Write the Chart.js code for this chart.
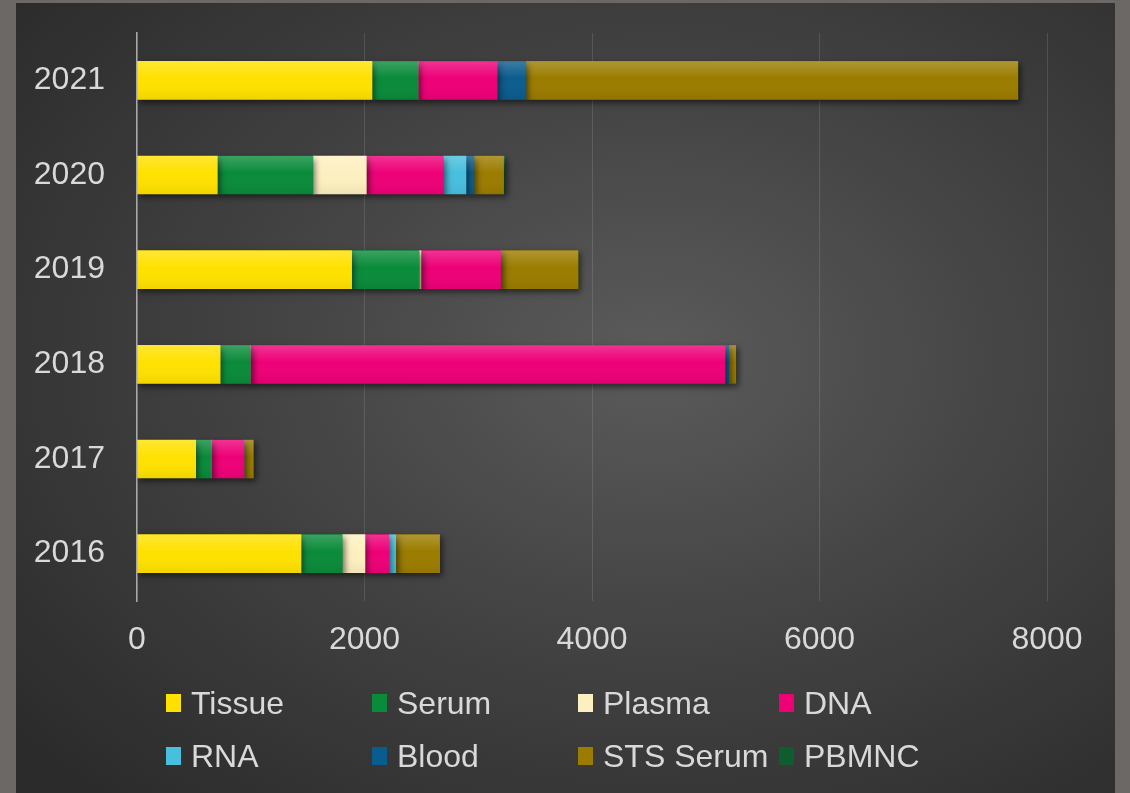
<!DOCTYPE html>
<html>
<head>
<meta charset="utf-8">
<script src="https://cdn.jsdelivr.net/npm/chart.js@4/dist/chart.umd.min.js"></script>
<style>
  html, body { margin: 0; padding: 0; }
  body { width: 1130px; height: 793px; background: #6b6866; position: relative; overflow: hidden;
         font-family: "Liberation Sans", Arial, sans-serif; }
  #panel { position: absolute; left: 16px; top: 3px; width: 1099px; height: 790px;
           background: radial-gradient(ellipse 75% 75% at 58% 45%, #5b5b5b 0%, #444 45%, #2b2b2b 100%); }
  #chart { position: absolute; left: 0; top: 0; }
  #legend { position: absolute; left: 166px; top: 684px; display: grid;
            grid-template-columns: 206px 206px 201px auto; row-gap: 15px; }
  .item { display: flex; align-items: center; height: 38px; color: #d9d9d9; font-size: 32px; white-space: nowrap; }
  .box { width: 15px; height: 18px; margin-right: 10px; }
</style>
</head>
<body>
<div id="panel"></div>
<canvas id="chart" width="1130" height="793"></canvas>
<div id="legend"></div>
<script>
// years (category axis)
const years = ["2016", "2017", "2018", "2019", "2020", "2021"];

// series values, one per year
const tissue   = [1442, 516, 731, 1887, 706, 2066];
const serum    = [363, 137, 264, 594, 841, 404];
const plasma   = [199, 0, 0, 15, 469, 0];
const dna      = [211, 287, 4173, 700, 677, 694];
const rna      = [59, 0, 0, 0, 199, 0];
const blood    = [0, 0, 34, 0, 70, 255];
const stsSerum = [387, 83, 62, 682, 261, 4325];
const pbmnc    = [0, 0, 0, 0, 10, 0];

const seriesNames = ["Tissue", "Serum", "Plasma", "DNA", "RNA", "Blood", "STS Serum", "PBMNC"];
const seriesData = [tissue, serum, plasma, dna, rna, blood, stsSerum, pbmnc];
const seriesColors = ["#ffe100", "#0a8b3a", "#fdf0c0", "#ee0077", "#48bfdd", "#0b5c8e", "#9b7c00", "#0f5c2e"];

// x axis ticks
const xMin = 0;
const xMax = 8000;
const xStep = 2000;

const textColor = "#d9d9d9";

// shadow under the bars
const shadowPlugin = {
  id: "barShadow",
  beforeDatasetsDraw(chart) {
    const ctx = chart.ctx;
    ctx.save();
    ctx.shadowColor = "rgba(0,0,0,0.55)";
    ctx.shadowBlur = 6;
    ctx.shadowOffsetX = 2;
    ctx.shadowOffsetY = 3;
  },
  afterDatasetsDraw(chart) {
    const ctx = chart.ctx;
    ctx.restore();
    // light gloss on each bar
    chart.data.datasets.forEach((ds, i) => {
      const meta = chart.getDatasetMeta(i);
      meta.data.forEach(bar => {
        const p = bar.getProps(["x", "y", "base", "height"], true);
        const left = Math.min(p.x, p.base);
        const w = Math.abs(p.x - p.base);
        if (w <= 0) return;
        const top = p.y - p.height / 2;
        const g = ctx.createLinearGradient(0, top, 0, top + p.height);
        g.addColorStop(0, "rgba(255,255,255,0.2)");
        g.addColorStop(0.45, "rgba(255,255,255,0)");
        g.addColorStop(1, "rgba(0,0,0,0.06)");
        ctx.fillStyle = g;
        ctx.fillRect(left, top, w, p.height);
      });
    });
  }
};

const ctx = document.getElementById("chart").getContext("2d");

new Chart(ctx, {
  type: "bar",
  data: {
    labels: years,
    datasets: seriesNames.map((name, i) => ({
      label: name,
      data: seriesData[i],
      backgroundColor: seriesColors[i],
      borderWidth: 0,
      barThickness: 38
    }))
  },
  options: {
    indexAxis: "y",
    responsive: false,
    animation: false,
    layout: { padding: { left: 0, top: 33, right: 83, bottom: 132 } },
    plugins: {
      legend: { display: false },
      tooltip: { enabled: false }
    },
    scales: {
      x: {
        stacked: true,
        min: xMin,
        max: xMax,
        afterFit(scale) { scale.height = 60; },
        ticks: {
          stepSize: xStep,
          color: textColor,
          padding: 20,
          callback: v => String(v),
          font: { family: "'Liberation Sans', Arial, sans-serif", size: 32 }
        },
        grid: { color: "rgba(255,255,255,0.12)", lineWidth: 1, drawTicks: false },
        border: { display: false }
      },
      y: {
        stacked: true,
        reverse: true,
        afterFit(scale) {
          scale.width = 137;
          scale.paddingTop = 0;
          scale.paddingBottom = 0;
        },
        ticks: {
          color: textColor,
          padding: 32,
          font: { family: "'Liberation Sans', Arial, sans-serif", size: 32 }
        },
        grid: { display: false, drawTicks: false },
        border: { display: true, color: "#a8a8a8", width: 1.5 }
      }
    }
  },
  plugins: [shadowPlugin]
});

// legend in two rows of four
const legend = document.getElementById("legend");
seriesNames.forEach((name, i) => {
  const item = document.createElement("div");
  item.className = "item";
  item.innerHTML = `<span class="box" style="background:${seriesColors[i]}"></span>${name}`;
  legend.appendChild(item);
});
</script>
</body>
</html>
